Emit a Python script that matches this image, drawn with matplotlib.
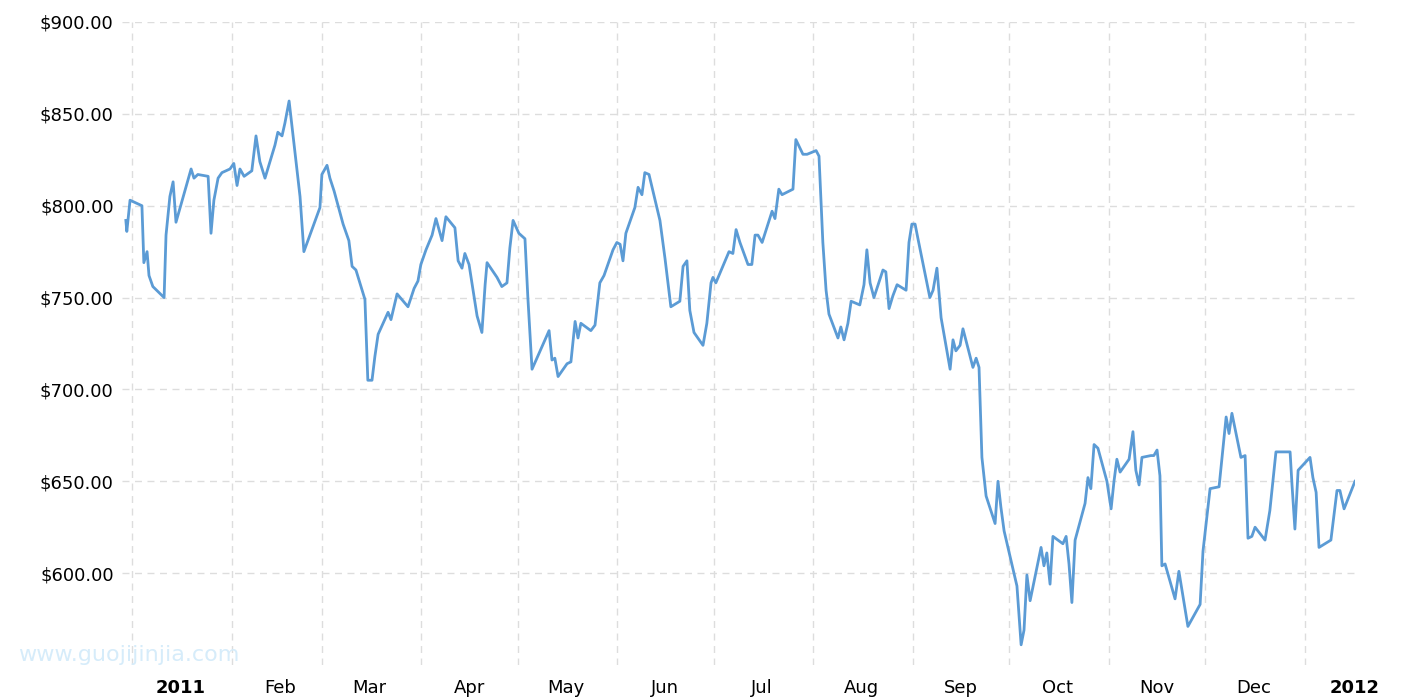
import matplotlib
matplotlib.use("Agg")
import matplotlib.pyplot as plt
import matplotlib.dates as mdates
import datetime as dt

# days since 2011-01-01
days = [-1.9,-1.6,-0.6,3.1,3.7,4.7,5.3,6.5,10.0,10.6,11.8,12.8,13.7,16.8,18.4,19.3,20.5,23.7,24.6,25.5,26.8,28.0,30.5,31.7,32.7,33.6,34.9,37.3,38.6,39.8,41.4,44.5,45.4,46.7,47.6,48.9,52.3,53.5,56.0,58.5,59.1,60.7,61.6,62.9,65.7,67.5,68.5,69.7,72.5,73.4,74.7,75.6,76.6,79.7,80.6,82.5,85.9,87.8,89.0,89.9,91.5,93.4,94.6,96.5,97.7,100.5,101.5,102.7,103.6,104.9,107.4,108.9,109.9,110.5,113.6,115.1,116.7,117.6,118.6,120.4,122.3,123.2,124.5,128.8,129.8,130.7,131.6,132.6,135.4,136.6,137.9,138.8,139.7,142.8,144.1,145.6,146.9,149.7,150.9,151.9,152.8,153.7,156.5,157.5,158.7,159.6,160.9,164.3,165.9,167.7,170.5,171.5,172.7,173.6,174.9,177.7,178.9,180.2,180.8,181.7,185.8,187.0,188.0,189.2,191.7,192.9,193.9,194.8,196.1,199.2,200.1,201.3,202.3,205.7,206.6,208.8,210.1,212.9,213.8,215.0,216.0,216.9,219.7,220.6,221.6,222.8,223.8,226.5,227.8,228.7,229.7,230.9,233.7,234.6,235.6,236.8,238.1,240.9,241.8,242.7,243.7,244.6,248.3,249.3,250.5,251.8,254.6,255.5,256.4,257.7,258.6,261.7,262.7,263.6,264.5,265.8,268.6,269.5,270.4,271.4,275.4,276.7,277.6,278.5,279.5,282.9,283.8,284.7,285.7,286.6,289.7,290.7,291.6,292.5,293.5,296.6,297.5,298.4,299.4,300.6,303.4,304.7,305.6,306.5,307.5,310.3,311.5,312.4,313.4,314.3,317.1,318.0,319.0,319.9,320.5,321.5,324.6,325.8,328.6,332.4,333.3,335.5,338.3,340.5,341.4,342.3,345.1,346.4,347.3,348.5,349.5,352.6,354.1,356.0,360.4,361.0,361.9,362.9,366.6,367.5,368.5,369.4,373.1,375.0,375.9,377.2,380.6]
prices = [792,786,803,800,769,775,762,756,750,784,805,813,791,810,820,815,817,816,785,803,815,818,820,823,811,820,816,819,838,824,815,833,840,838,845,857,805,775,787,799,817,822,815,808,790,781,767,765,749,705,705,718,730,742,738,752,745,755,759,768,776,784,793,781,794,788,770,766,774,768,740,731,757,769,761,756,758,777,792,785,782,750,711,728,732,716,717,707,714,715,737,728,736,732,735,758,762,776,780,779,770,785,799,810,806,818,817,792,771,745,748,767,770,743,731,724,736,758,761,758,775,774,787,780,768,768,784,784,780,797,793,809,806,809,836,828,828,830,827,780,754,741,728,734,727,736,748,746,757,776,758,750,765,764,744,751,757,754,780,790,790,782,750,754,766,739,711,727,721,724,733,712,717,712,663,642,627,650,636,623,593,561,569,599,585,614,604,611,594,620,616,620,605,584,618,638,652,646,670,668,650,635,650,662,655,662,677,656,648,663,664,664,667,653,604,605,586,601,571,583,612,646,647,685,676,687,663,664,619,620,625,618,634,666,666,648,624,656,663,652,644,614,618,645,645,635,650]
month_labels = ["2011","Feb","Mar","Apr","May","Jun","Jul","Aug","Sep","Oct","Nov","Dec","2012"]
yticks = [600,650,700,750,800,850,900]

base = mdates.date2num(dt.datetime(2011,1,1))
x = [base+d for d in days]

fig = plt.figure(figsize=(14.15,7.0), dpi=100)
ax = fig.add_axes([122/1415, 35/700, (1355-122)/1415, (665-22)/700])
ax.plot(x, prices, color="#5b9bd5", lw=2)
ax.set_xlim(base-3.1, base+380.6)
ax.set_ylim(550, 900)
for s in ax.spines.values():
    s.set_visible(False)
ax.set_yticks(yticks)
ax.set_yticklabels([f"${v:.2f}" for v in yticks], fontsize=13)
ax.tick_params(axis='y', length=0, pad=6)
ax.tick_params(axis='x', length=0, pad=10)
ax.grid(axis='y', color='#dddddd', ls=(0,(5,4)), lw=1)
month_starts = [mdates.date2num(dt.datetime(2011,m,1)) for m in range(1,13)] + [mdates.date2num(dt.datetime(2012,1,1))]
for m in month_starts:
    ax.axvline(m, color='#dddddd', ls=(0,(5,4)), lw=1, zorder=0)
label_pos = [mdates.date2num(dt.datetime(2011,m,16)) for m in range(1,13)] + [base+380.6]
ax.set_xticks(label_pos)
ax.set_xticklabels(month_labels, fontsize=13)
for t in ax.get_xticklabels():
    if t.get_text() in ("2011","2012"):
        t.set_fontweight('bold')
fig.text(18/1415, 1-655/700, "www.guojijinjia.com", color="#d6ecfa", fontsize=16, va='center')
fig.savefig("out.png", dpi=100)
